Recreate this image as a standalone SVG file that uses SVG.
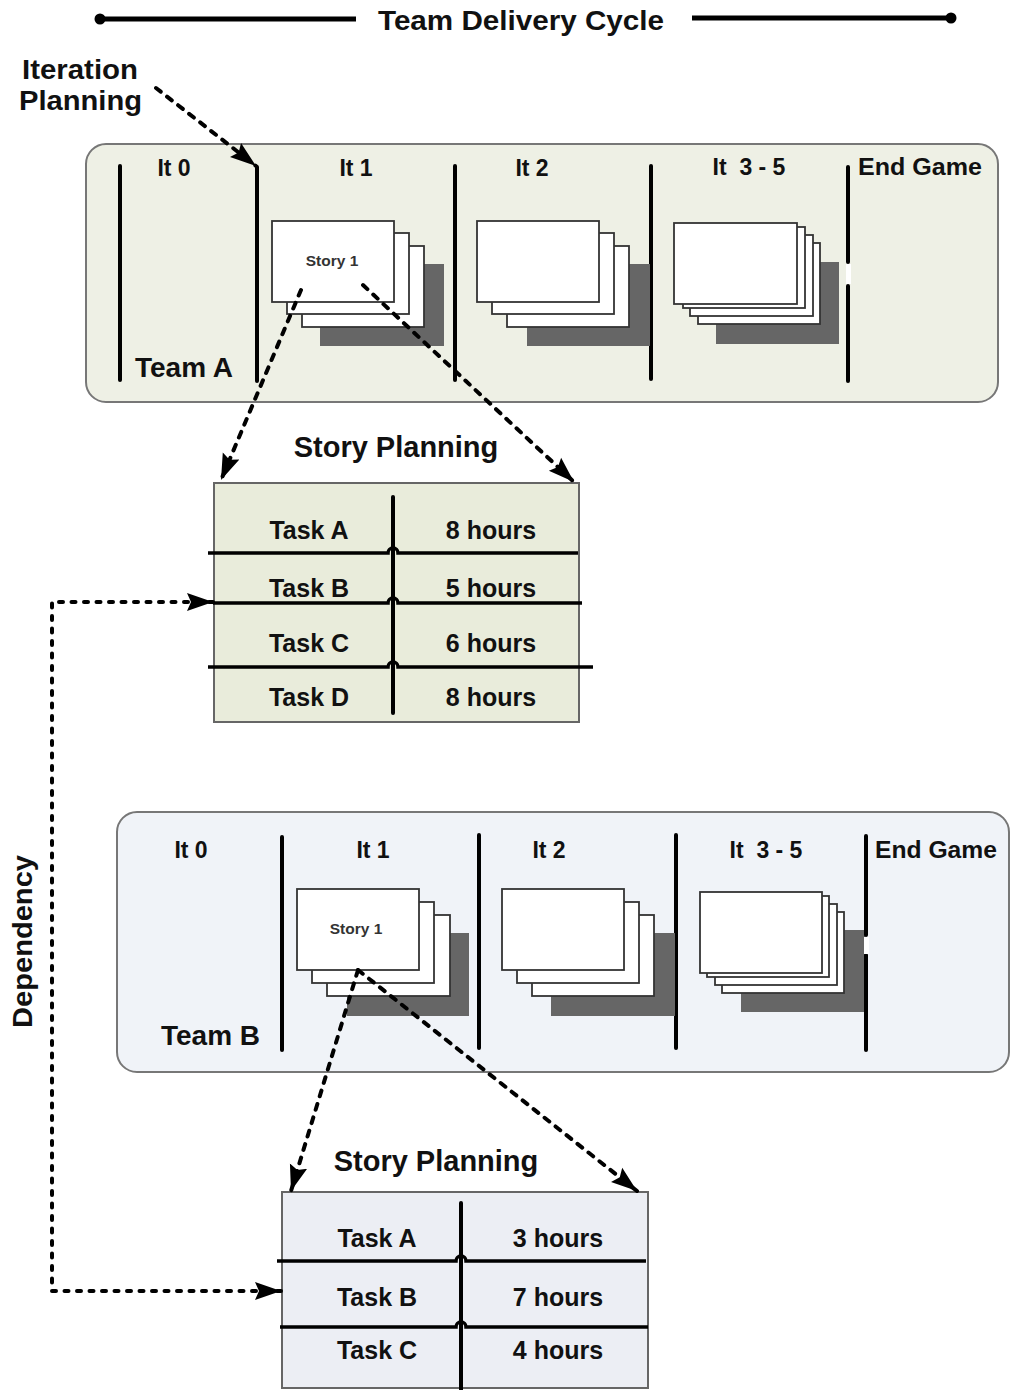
<svg xmlns="http://www.w3.org/2000/svg" width="1011" height="1390" viewBox="0 0 1011 1390">
<style>
text{font-family:"Liberation Sans",Arial,sans-serif;font-weight:bold;fill:#111}
.lbl{font-size:23px;text-anchor:middle}
.team{font-size:28px}
.task{font-size:25px;text-anchor:middle}
.title{font-size:29px;text-anchor:middle}
.story{font-size:15.5px;fill:#333;text-anchor:middle}
.big{font-size:27px}
.card{fill:#fff;stroke:#333;stroke-width:1.8}
.shadow{fill:#666}
.vl{stroke:#000;stroke-width:4;stroke-linecap:round;fill:none}
.hl{stroke:#000;stroke-width:3.5;fill:none}
.dash{stroke:#000;stroke-width:4;fill:none;stroke-dasharray:6 8;stroke-linecap:round}
.dot{stroke:#000;stroke-width:4;fill:none;stroke-dasharray:4 8.5;stroke-linecap:round}
</style>
<defs>
<marker id="ah" markerUnits="userSpaceOnUse" markerWidth="28" markerHeight="20" viewBox="0 0 28 20" refX="26" refY="10" orient="auto-start-reverse">
<path d="M0,1 L26,10 L0,19 L4,10 Z" fill="#000"/>
</marker>
</defs>

<g id="header">
<line x1="100" y1="19" x2="356" y2="19" stroke="#000" stroke-width="5"/>
<circle cx="100" cy="19" r="5.5" fill="#000"/>
<line x1="692" y1="18" x2="950" y2="18" stroke="#000" stroke-width="5"/>
<circle cx="951" cy="18" r="5.5" fill="#000"/>
<text class="big" x="378" y="30" textLength="286" lengthAdjust="spacingAndGlyphs">Team Delivery Cycle</text>
</g>

<g id="iteration-planning-label">
<text class="big" x="22" y="79" textLength="116" lengthAdjust="spacingAndGlyphs">Iteration</text>
<text class="big" x="19" y="110" textLength="123" lengthAdjust="spacingAndGlyphs">Planning</text>
</g>

<g id="team-a">
<rect x="86" y="144" width="912" height="258" rx="20" fill="#eef0e5" stroke="#777" stroke-width="2"/>
<line class="vl" x1="120" y1="166" x2="120" y2="380"/>
<line class="vl" x1="257" y1="167" x2="257" y2="381"/>
<line class="vl" x1="455" y1="166" x2="455" y2="380"/>
<line class="vl" x1="651" y1="166" x2="651" y2="379"/>
<text class="lbl" x="174" y="176">It 0</text>
<text class="lbl" x="356" y="176">It 1</text>
<text class="lbl" x="532" y="176">It 2</text>
<text class="lbl" x="749" y="175" xml:space="preserve">It  3 - 5</text>
<text class="lbl" x="920" y="175" textLength="124" lengthAdjust="spacingAndGlyphs">End Game</text>
<text class="team" x="135" y="377">Team A</text>
<g id="team-a-it1-stories">
<rect class="shadow" x="320" y="264" width="124" height="82"/>
<rect class="card" x="302" y="246" width="122" height="81"/>
<rect class="card" x="287" y="233" width="122" height="81"/>
<rect class="card" x="272" y="221" width="122" height="81"/>
<text class="story" x="332" y="266">Story 1</text>
</g>
<g id="team-a-it2-stories">
<rect class="shadow" x="527" y="264" width="123" height="82"/>
<rect class="card" x="507" y="246" width="122" height="81"/>
<rect class="card" x="492" y="233" width="122" height="81"/>
<rect class="card" x="477" y="221" width="122" height="81"/>
</g>
<g id="team-a-it35-stories">
<rect class="shadow" x="716" y="262" width="123" height="82"/>
<rect class="card" x="698" y="243" width="122" height="81"/>
<rect class="card" x="690" y="235" width="123" height="81"/>
<rect class="card" x="683" y="227" width="122" height="81"/>
<rect class="card" x="674" y="223" width="123" height="81"/>
</g>
<line class="vl" x1="848" y1="167" x2="848" y2="262"/>
<line class="vl" x1="848" y1="286" x2="848" y2="381"/>
<rect x="846" y="264" width="5" height="20" fill="#fff"/>
</g>

<g id="story-planning-a">
<text class="title" x="396" y="457">Story Planning</text>
<rect x="214" y="483" width="365" height="239" fill="#e9ecdb" stroke="#666" stroke-width="2"/>
<line class="vl" x1="393" y1="497" x2="393" y2="713"/>
<path class="hl" d="M208,553 H388 A5,5 0 0 1 398,553 H578"/>
<path class="hl" d="M213,603 H388 A5,5 0 0 1 398,603 H582"/>
<path class="hl" d="M208,667 H388 A5,5 0 0 1 398,667 H593"/>
<text class="task" x="309" y="539">Task A</text>
<text class="task" x="491" y="539">8 hours</text>
<text class="task" x="309" y="597">Task B</text>
<text class="task" x="491" y="597">5 hours</text>
<text class="task" x="309" y="652">Task C</text>
<text class="task" x="491" y="652">6 hours</text>
<text class="task" x="309" y="706">Task D</text>
<text class="task" x="491" y="706">8 hours</text>
</g>

<g id="team-b">
<rect x="117" y="812" width="892" height="260" rx="20" fill="#f0f3f8" stroke="#777" stroke-width="2"/>
<line class="vl" x1="282" y1="837" x2="282" y2="1050"/>
<line class="vl" x1="479" y1="835" x2="479" y2="1048"/>
<line class="vl" x1="676" y1="835" x2="676" y2="1048"/>
<text class="lbl" x="191" y="858">It 0</text>
<text class="lbl" x="373" y="858">It 1</text>
<text class="lbl" x="549" y="858">It 2</text>
<text class="lbl" x="766" y="858" xml:space="preserve">It  3 - 5</text>
<text class="lbl" x="936" y="858" textLength="122" lengthAdjust="spacingAndGlyphs">End Game</text>
<text class="team" x="161" y="1045">Team B</text>
<g id="team-b-it1-stories">
<rect class="shadow" x="347" y="933" width="122" height="83"/>
<rect class="card" x="327" y="915" width="123" height="81"/>
<rect class="card" x="312" y="902" width="122" height="81"/>
<rect class="card" x="297" y="889" width="122" height="81"/>
<text class="story" x="356" y="934">Story 1</text>
</g>
<g id="team-b-it2-stories">
<rect class="shadow" x="551" y="933" width="124" height="83"/>
<rect class="card" x="532" y="915" width="122" height="81"/>
<rect class="card" x="517" y="902" width="122" height="81"/>
<rect class="card" x="502" y="889" width="122" height="81"/>
</g>
<g id="team-b-it35-stories">
<rect class="shadow" x="741" y="930" width="124" height="82"/>
<rect class="card" x="722" y="912" width="122" height="81"/>
<rect class="card" x="715" y="904" width="122" height="81"/>
<rect class="card" x="707" y="896" width="122" height="81"/>
<rect class="card" x="700" y="892" width="122" height="81"/>
</g>
<line class="vl" x1="866" y1="836" x2="866" y2="935"/>
<line class="vl" x1="866" y1="955" x2="866" y2="1050"/>
<rect x="864" y="937" width="5" height="17" fill="#fff"/>
</g>

<g id="story-planning-b">
<text class="title" x="436" y="1171">Story Planning</text>
<rect x="282" y="1192" width="366" height="196" fill="#eceef4" stroke="#666" stroke-width="2"/>
<line class="vl" x1="461" y1="1203" x2="461" y2="1392"/>
<path class="hl" d="M277,1261 H456 A5,5 0 0 1 466,1261 H646"/>
<path class="hl" d="M280,1327 H456 A5,5 0 0 1 466,1327 H648"/>
<text class="task" x="377" y="1247">Task A</text>
<text class="task" x="558" y="1247">3 hours</text>
<text class="task" x="377" y="1306">Task B</text>
<text class="task" x="558" y="1306">7 hours</text>
<text class="task" x="377" y="1359">Task C</text>
<text class="task" x="558" y="1359">4 hours</text>
</g>

<g id="dependency-label">
<text class="big" transform="translate(32,1028) rotate(-90)" x="0" y="0" textLength="173" lengthAdjust="spacingAndGlyphs">Dependency</text>
</g>

<g id="connectors">
<path class="dash" d="M156,88 L256,166" marker-end="url(#ah)"/>
<path class="dash" d="M301,290 L221,480" marker-end="url(#ah)"/>
<path class="dash" d="M363,285 L574,482" marker-end="url(#ah)"/>
<path class="dash" d="M358,970 L291,1191" marker-end="url(#ah)"/>
<path class="dash" d="M358,970 L637,1191" marker-end="url(#ah)"/>
<path class="dot" d="M213,602 H52 V1291 H281" marker-start="url(#ah)" marker-end="url(#ah)"/>
</g>
</svg>
